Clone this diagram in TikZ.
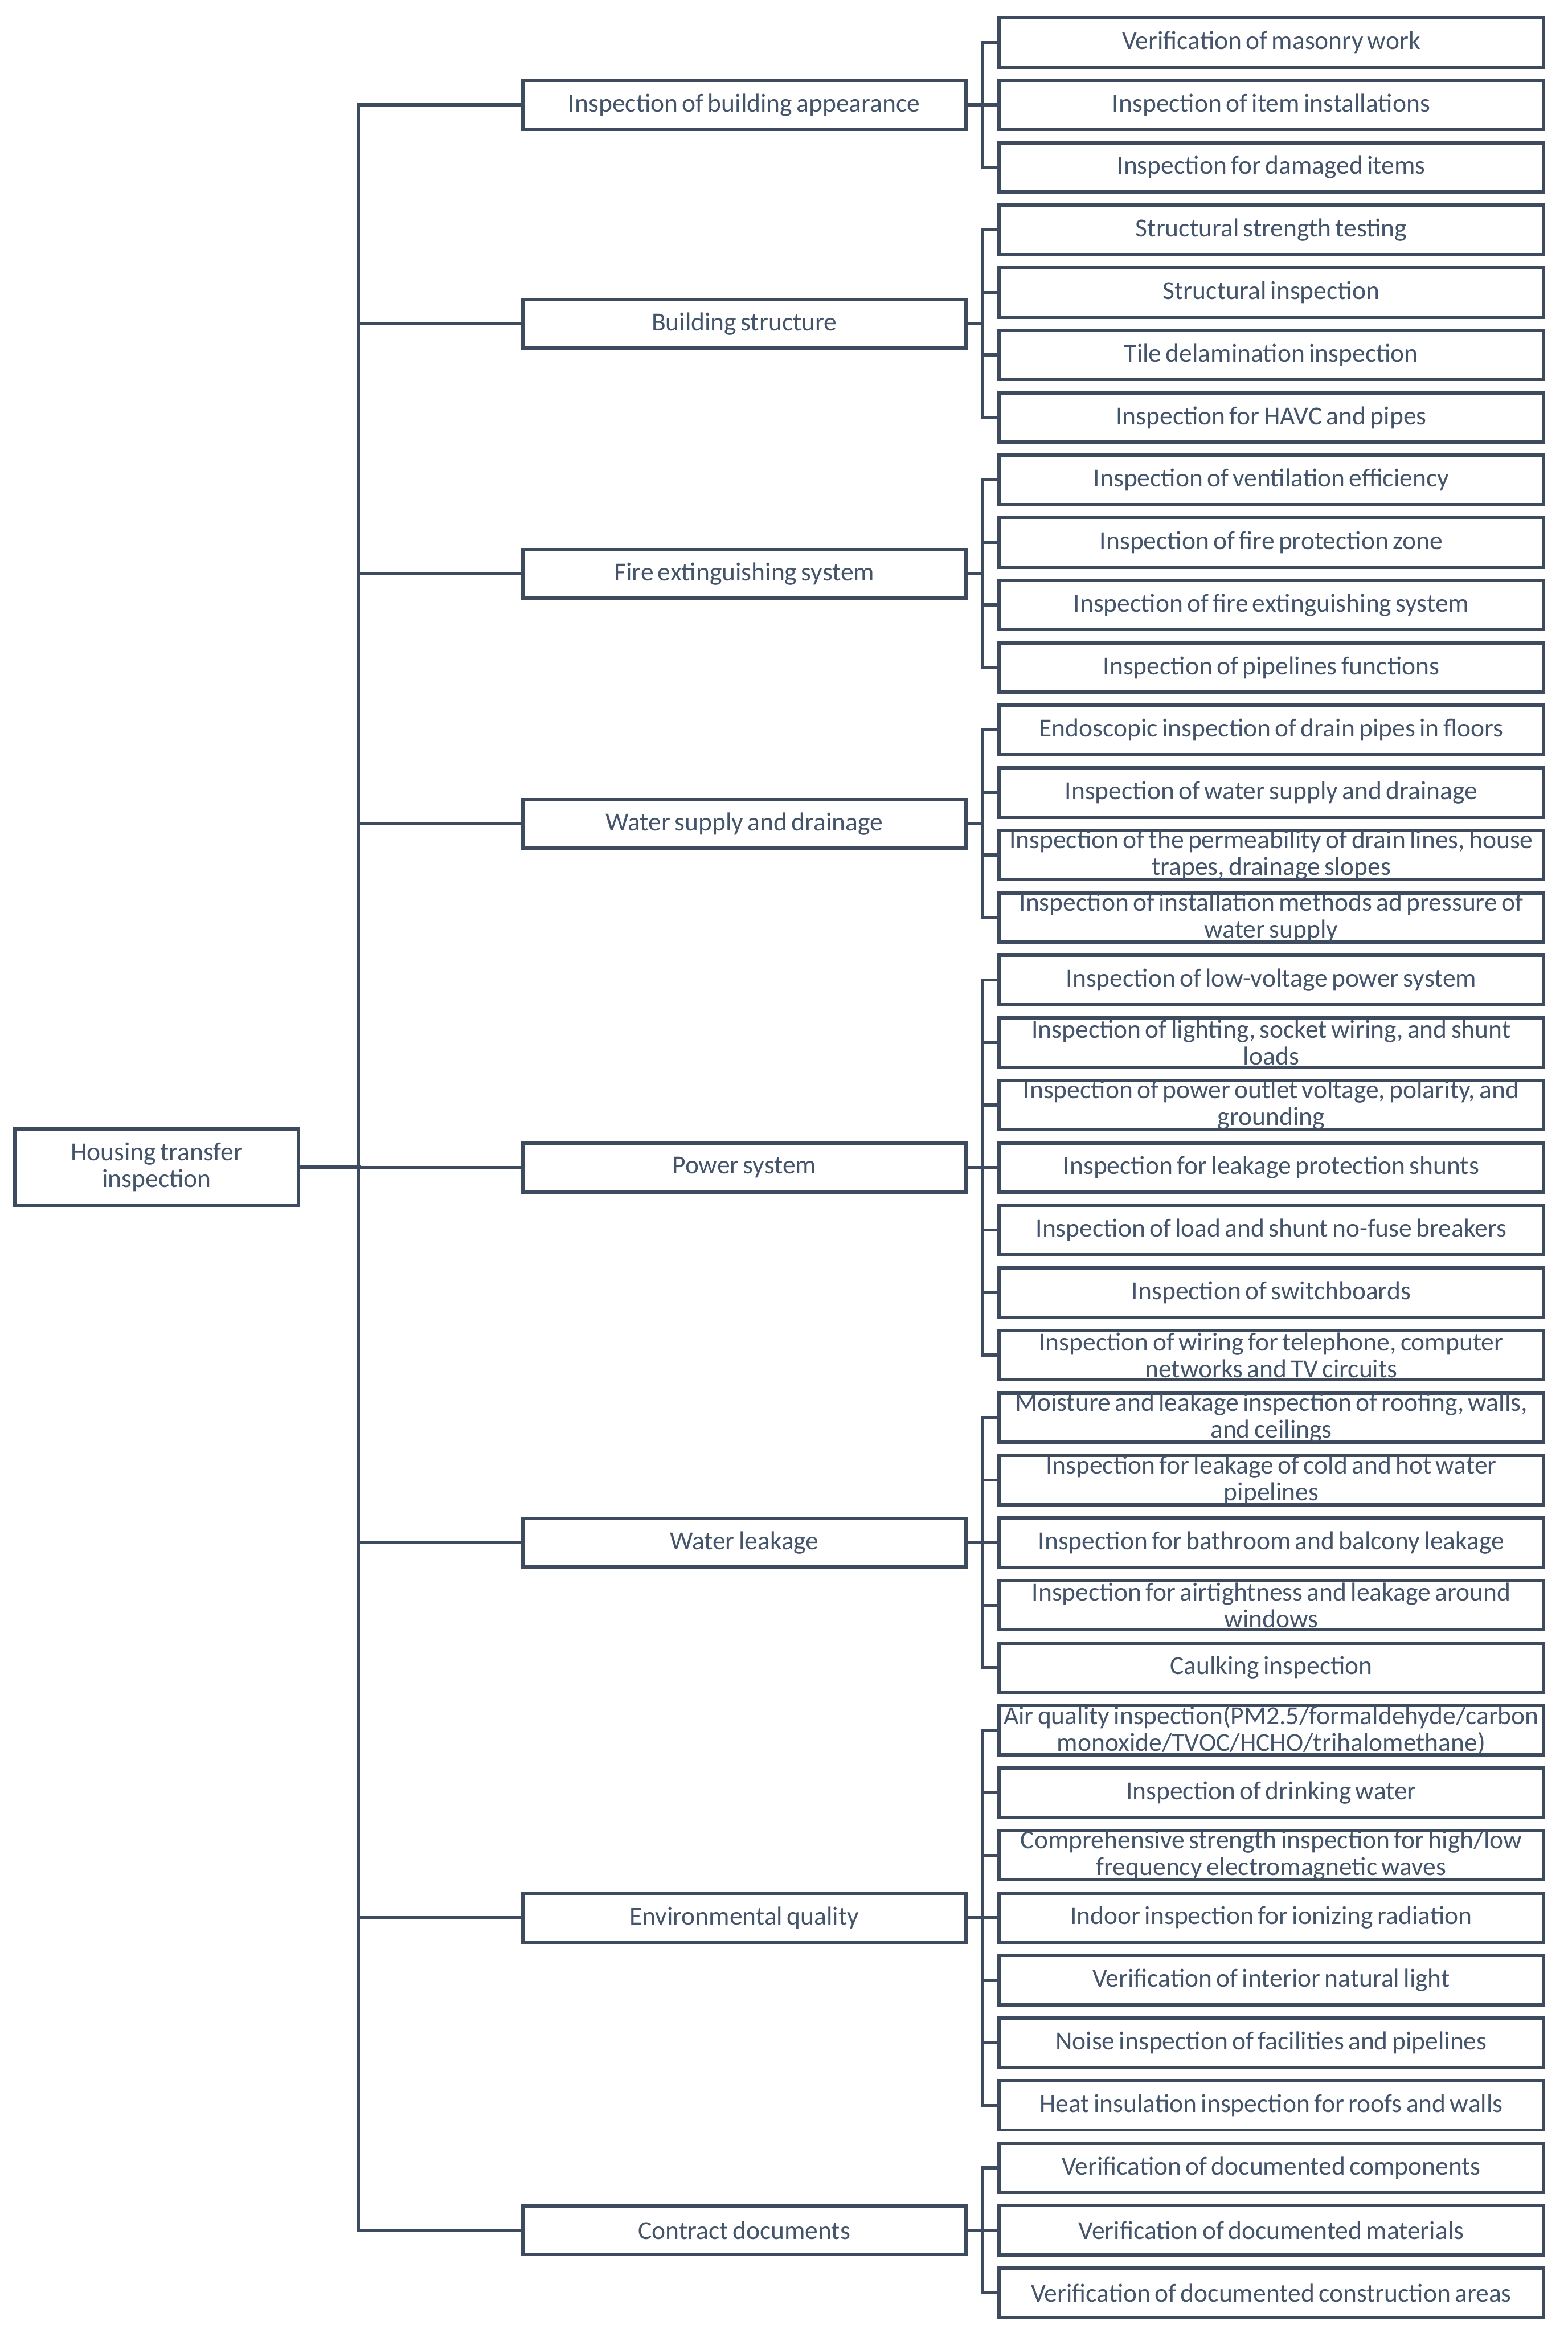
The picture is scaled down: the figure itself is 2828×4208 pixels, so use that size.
\documentclass[tikz,border=0pt]{standalone}
\usepackage{fontspec}
\setmainfont{Carlito}
\definecolor{ln}{HTML}{3E4B5E}
\definecolor{tx}{HTML}{44546A}
\newcommand\mynodefont{\fontsize{11.7pt}{12pt}\selectfont}
\newcommand\mytightspace{\spaceskip=0.16em plus 0.05em minus 0.02em\relax}
\begin{document}
\begin{tikzpicture}[x=0.25pt,y=-0.25pt,
 box/.style={draw=ln,line width=1.5pt,fill=white,inner sep=0pt,align=center,text=tx,font=\mynodefont,execute at begin node=\mytightspace},
 leaf/.style={box,minimum width=245.5pt,minimum height=22.25pt},
 midbox/.style={box,minimum width=199.75pt,minimum height=22pt},
 conn/.style={draw=ln,line width=1.4pt,line cap=rect},
 ]
\useasboundingbox[fill=white] (0,0) rectangle (2828,4208);
\coordinate (TX) at (646,0);
\coordinate (BX) at (1772,0);
% root
\node[box,minimum width=127.75pt,minimum height=34.5pt] (root) at (282.5,2105) {Housing transfer\\inspection};
% level 1
\node[midbox] (a1) at (1342.5,189.25) {Inspection of building appearance};
\node[midbox] (a2) at (1342.5,583.9) {Building structure};
\node[midbox] (a3) at (1342.5,1034.9) {Fire extinguishing system};
\node[midbox] (a4) at (1342.5,1485.9) {Water supply and drainage};
\node[midbox] (a5) at (1342.5,2106) {Power system};
\node[midbox] (a6) at (1342.5,2782.5) {Water leakage};
\node[midbox] (a7) at (1342.5,3459) {Environmental quality};
\node[midbox] (a8) at (1342.5,4022.75) {Contract documents};
% level 2
\node[leaf] (b0) at (2293,{76.5+112.75*0}) {Verification of masonry work};
\node[leaf] (b1) at (2293,{76.5+112.75*1}) {Inspection of item installations};
\node[leaf] (b2) at (2293,{76.5+112.75*2}) {Inspection for damaged items};
\node[leaf] (b3) at (2293,{76.5+112.75*3}) {Structural strength testing};
\node[leaf] (b4) at (2293,{76.5+112.75*4}) {Structural inspection};
\node[leaf] (b5) at (2293,{76.5+112.75*5}) {Tile delamination inspection};
\node[leaf] (b6) at (2293,{76.5+112.75*6}) {Inspection for HAVC and pipes};
\node[leaf] (b7) at (2293,{76.5+112.75*7}) {Inspection of ventilation efficiency};
\node[leaf] (b8) at (2293,{76.5+112.75*8}) {Inspection of fire protection zone};
\node[leaf] (b9) at (2293,{76.5+112.75*9}) {Inspection of fire extinguishing system};
\node[leaf] (b10) at (2293,{76.5+112.75*10}) {Inspection of pipelines functions};
\node[leaf] (b11) at (2293,{76.5+112.75*11}) {Endoscopic inspection of drain pipes in floors};
\node[leaf] (b12) at (2293,{76.5+112.75*12}) {Inspection of water supply and drainage};
\node[leaf] (b13) at (2293,{76.5+112.75*13}) {Inspection of the permeability of drain lines, house\\trapes, drainage slopes};
\node[leaf] (b14) at (2293,{76.5+112.75*14}) {Inspection of installation methods ad pressure of\\water supply};
\node[leaf] (b15) at (2293,{76.5+112.75*15}) {Inspection of low-voltage power system};
\node[leaf] (b16) at (2293,{76.5+112.75*16}) {Inspection of lighting, socket wiring, and shunt\\loads};
\node[leaf] (b17) at (2293,{76.5+112.75*17}) {Inspection of power outlet voltage, polarity, and\\grounding};
\node[leaf] (b18) at (2293,{76.5+112.75*18}) {Inspection for leakage protection shunts};
\node[leaf] (b19) at (2293,{76.5+112.75*19}) {Inspection of load and shunt no-fuse breakers};
\node[leaf] (b20) at (2293,{76.5+112.75*20}) {Inspection of switchboards};
\node[leaf] (b21) at (2293,{76.5+112.75*21}) {Inspection of wiring for telephone, computer\\networks and TV circuits};
\node[leaf] (b22) at (2293,{76.5+112.75*22}) {Moisture and leakage inspection of roofing, walls,\\and ceilings};
\node[leaf] (b23) at (2293,{76.5+112.75*23}) {Inspection for leakage of cold and hot water\\pipelines};
\node[leaf] (b24) at (2293,{76.5+112.75*24}) {Inspection for bathroom and balcony leakage};
\node[leaf] (b25) at (2293,{76.5+112.75*25}) {Inspection for airtightness and leakage around\\windows};
\node[leaf] (b26) at (2293,{76.5+112.75*26}) {Caulking inspection};
\node[leaf] (b27) at (2293,{76.5+112.75*27}) {Air quality inspection(PM2.5/formaldehyde/carbon\\monoxide/TVOC/HCHO/trihalomethane)};
\node[leaf] (b28) at (2293,{76.5+112.75*28}) {Inspection of drinking water};
\node[leaf] (b29) at (2293,{76.5+112.75*29}) {Comprehensive strength inspection for high/low\\frequency electromagnetic waves};
\node[leaf] (b30) at (2293,{76.5+112.75*30}) {Indoor inspection for ionizing radiation};
\node[leaf] (b31) at (2293,{76.5+112.75*31}) {Verification of interior natural light};
\node[leaf] (b32) at (2293,{76.5+112.75*32}) {Noise inspection of facilities and pipelines};
\node[leaf] (b33) at (2293,{76.5+112.75*33}) {Heat insulation inspection for roofs and walls};
\node[leaf] (b34) at (2293,{76.5+112.75*34}) {Verification of documented components};
\node[leaf] (b35) at (2293,{76.5+112.75*35}) {Verification of documented materials};
\node[leaf] (b36) at (2293,{76.5+112.75*36}) {Verification of documented construction areas};
% connectors: root and trunk
\draw[conn,line width=2.2pt] (root.east) -- (TX |- root.east);
\draw[conn] (TX |- a1.west) -- (TX |- a8.west);
\foreach \g in {1,...,8} {\draw[conn] (TX |- a\g.west) -- (a\g.west);}
% brackets
\foreach \g/\f/\l in {1/0/2,2/3/6,3/7/10,4/11/14,5/15/21,6/22/26,7/27/33,8/34/36} {
  \draw[conn] (a\g.east) -- (BX |- a\g.east);
  \draw[conn] (BX |- b\f.west) -- (BX |- b\l.west);
  \foreach \k in {\f,...,\l} {\draw[conn] (BX |- b\k.west) -- (b\k.west);}
}
\end{tikzpicture}
\end{document}
